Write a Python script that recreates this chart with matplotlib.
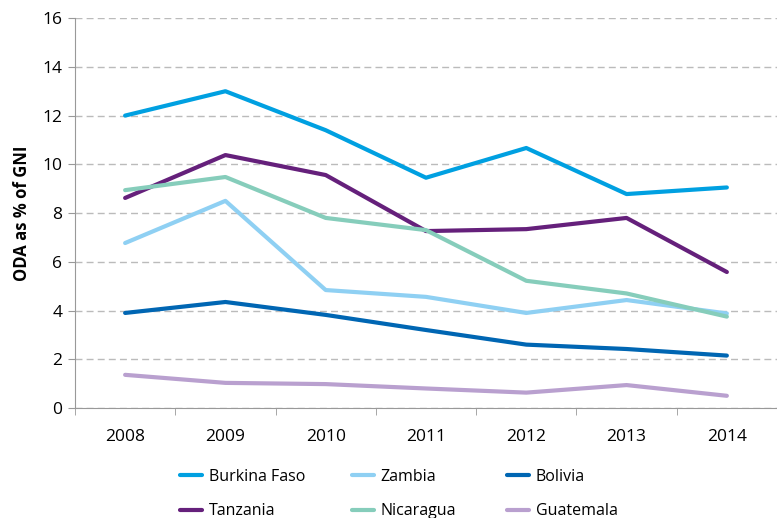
import matplotlib
matplotlib.use("Agg")
import matplotlib.pyplot as plt
from matplotlib.ticker import FixedLocator

years = ["2008", "2009", "2010", "2011", "2012", "2013", "2014"]
burkina = [12.0, 13.0, 11.4, 9.45, 10.67, 8.78, 9.05]
zambia = [6.77, 8.5, 4.84, 4.56, 3.9, 4.43, 3.88]
bolivia = [3.9, 4.35, 3.82, 3.2, 2.6, 2.42, 2.15]
tanzania = [8.62, 10.38, 9.56, 7.26, 7.34, 7.8, 5.58]
nicaragua = [8.94, 9.48, 7.8, 7.3, 5.22, 4.7, 3.75]
guatemala = [1.36, 1.03, 0.98, 0.8, 0.63, 0.94, 0.5]

series = [
    ("Burkina Faso", burkina, "#00a0e1"),
    ("Zambia", zambia, "#8fd0f3"),
    ("Bolivia", bolivia, "#0066b3"),
    ("Tanzania", tanzania, "#65207b"),
    ("Nicaragua", nicaragua, "#86cdbb"),
    ("Guatemala", guatemala, "#b9a0cf"),
]

plt.rcParams["font.family"] = "Open Sans"

fig = plt.figure(figsize=(7.77, 5.18), dpi=100)
ax = fig.add_axes([0.0965, 0.2124, 0.9035, 0.7526])

x = list(range(len(years)))
lines = {}
for name, vals, col in series:
    lines[name], = ax.plot(x, vals, color=col, lw=3, label=name, solid_capstyle="round")

ax.set_xlim(-0.5, 6.5)
ax.set_ylim(0, 16)
ax.set_yticks(range(0, 17, 2))
ax.set_xticks(x)
ax.set_xticklabels(years)
ax.xaxis.set_minor_locator(FixedLocator([i - 0.5 for i in range(8)]))
ax.tick_params(axis="x", which="major", length=0, pad=15, labelsize=12.5)
ax.tick_params(axis="x", which="minor", length=5, color="#999999", direction="out")
ax.tick_params(axis="y", length=5, color="#999999", labelsize=12.5, pad=4)
ax.yaxis.grid(True, color="#bbbbbb", linestyle=(0, (5, 3)), lw=1)
ax.set_axisbelow(True)
for s in ["top", "right"]:
    ax.spines[s].set_visible(False)
for s in ["left", "bottom"]:
    ax.spines[s].set_color("#999999")
ax.set_ylabel("ODA as % of GNI", fontsize=12, fontweight="bold", labelpad=8)

# legend: three columns, each its own legend so they line up like the original
columns = [["Burkina Faso", "Tanzania"], ["Zambia", "Nicaragua"], ["Bolivia", "Guatemala"]]
col_x = [0.2317, 0.453, 0.6525]
for names, cx in zip(columns, col_x):
    fig.legend([lines[n] for n in names], names, loc="upper left",
               bbox_to_anchor=(cx, 0.0946), frameon=False, borderpad=0,
               borderaxespad=0, fontsize=11.5, handlelength=1.4,
               handletextpad=0.4, labelspacing=1.15)

fig.savefig("out.png", dpi=100)
